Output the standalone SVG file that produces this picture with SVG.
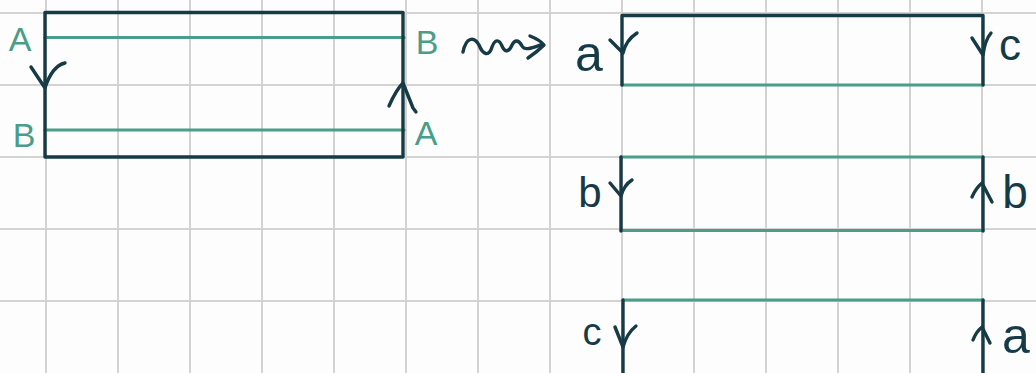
<svg xmlns="http://www.w3.org/2000/svg" width="1036" height="373" viewBox="0 0 1036 373">
  <style>
    .grid { stroke: #d3d3d3; stroke-width: 2; fill: none; }
    .dk { stroke: #173b46; stroke-width: 3.4; fill: none; stroke-linecap: round; stroke-linejoin: round; }
    .gr { stroke: #4b9d89; stroke-width: 3.2; fill: none; stroke-linecap: round; }
    .cap { font-family: "Liberation Sans", sans-serif; font-size: 34px; fill: #4b9d89; text-anchor: middle; }
    .low { font-family: "Liberation Sans", sans-serif; fill: #173b46; text-anchor: middle; }
  </style>
  <rect width="1036" height="373" fill="#fdfdfd"/>
  <g id="grid" class="grid">
    <path d="M46,0V373 M118,0V373 M190,0V373 M262,0V373 M334,0V373 M406,0V373 M478,0V373 M550,0V373 M622,0V373 M694,0V373 M766,0V373 M838,0V373 M910,0V373 M982,0V373"/>
    <path d="M0,13H1036 M0,85H1036 M0,157H1036 M0,229H1036 M0,301H1036"/>
  </g>
  <g id="strip-left">
    <line class="gr" x1="45" y1="37.5" x2="404" y2="37.5"/>
    <line class="gr" x1="45" y1="130" x2="404" y2="130"/>
    <rect class="dk" x="45" y="12.5" width="358" height="144.5"/>
    <path class="dk" d="M31,67 L45,88 M65,63 Q52,66 45,88"/>
    <path class="dk" d="M389,106 Q396,90 403,83 L413,108 L416,112"/>
    <text class="cap" x="20" y="51">A</text>
    <text class="cap" x="24" y="147">B</text>
    <text class="cap" x="427" y="54">B</text>
    <text class="cap" x="426" y="145">A</text>
  </g>
  <g id="piece-a">
    <line class="gr" x1="622" y1="85" x2="983" y2="85"/>
    <path class="dk" d="M622,85 V15.5 H983 V85"/>
    <path class="dk" d="M610,40 L623,53 M637,33 Q626,40 623,53"/>
    <path class="dk" d="M972,38 L983,55 M991,33 Q985,40 983,55"/>
    <text class="low" x="589" y="71" font-size="50">a</text>
    <text class="low" x="1010" y="60" font-size="44">c</text>
  </g>
  <g id="piece-b">
    <line class="gr" x1="621" y1="157" x2="983" y2="157"/>
    <line class="gr" x1="621" y1="230.5" x2="983" y2="230.5"/>
    <line class="dk" x1="621" y1="157" x2="621" y2="231"/>
    <line class="dk" x1="983" y1="157" x2="983" y2="231"/>
    <path class="dk" d="M610,183 L621,196 M632,180 Q624,185 621,196"/>
    <path class="dk" d="M972,197 Q976,188 982,183 L992,202"/>
    <text class="low" x="590" y="207" font-size="42">b</text>
    <text class="low" x="1015" y="208" font-size="46">b</text>
  </g>
  <g id="piece-c">
    <line class="gr" x1="623" y1="300" x2="983" y2="300"/>
    <line class="dk" x1="623" y1="300" x2="623" y2="373"/>
    <line class="dk" x1="983" y1="300" x2="983" y2="373"/>
    <path class="dk" d="M615,327 L623,347 M636,326 Q627,333 623,347"/>
    <path class="dk" d="M973,340 Q976,332 982,327 L990,343"/>
    <text class="low" x="592" y="345" font-size="38">c</text>
    <text class="low" x="1016" y="353" font-size="50">a</text>
  </g>
  <g id="connectors">
    <path class="dk" d="M463,52 C466,37 474,36 479,45 C483,55 489,57 492,47 C495,39 499,39 502,46 C505,53 509,52 512,45 C515,39 519,40 522,46 C525,51 531,48 541,45"/>
    <path class="dk" d="M530,36 Q540,40 544,45 Q537,52 528,58"/>
  </g>
</svg>
